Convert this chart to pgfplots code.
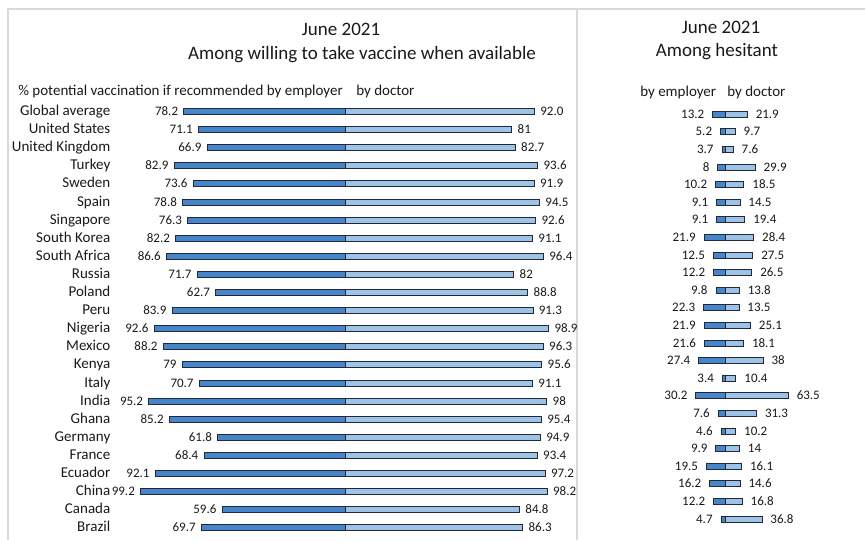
\documentclass[border=0pt]{standalone}
\usepackage{fontspec}
\setmainfont{Carlito}
\usepackage{pgfplots}
\usepackage{pgfplotstable}
\pgfplotsset{compat=1.18}

\definecolor{empc}{RGB}{68,133,204}
\definecolor{docc}{RGB}{157,195,232}
\definecolor{edgec}{RGB}{35,40,50}
\definecolor{framec}{RGB}{217,217,217}
\definecolor{txt}{RGB}{25,25,25}

% Share (%) who would get vaccinated if recommended by employer / by doctor
\pgfplotstableread{
row emp doc
0  78.2 92.0
1  71.1 81
2  66.9 82.7
3  82.9 93.6
4  73.6 91.9
5  78.8 94.5
6  76.3 92.6
7  82.2 91.1
8  86.6 96.4
9  71.7 82
10 62.7 88.8
11 83.9 91.3
12 92.6 98.9
13 88.2 96.3
14 79   95.6
15 70.7 91.1
16 95.2 98
17 85.2 95.4
18 61.8 94.9
19 68.4 93.4
20 92.1 97.2
21 99.2 98.2
22 59.6 84.8
23 69.7 86.3
}\willing

\pgfplotstableread{
row emp doc
0  13.2 21.9
1  5.2  9.7
2  3.7  7.6
3  8    29.9
4  10.2 18.5
5  9.1  14.5
6  9.1  19.4
7  21.9 28.4
8  12.5 27.5
9  12.2 26.5
10 9.8  13.8
11 22.3 13.5
12 21.9 25.1
13 21.6 18.1
14 27.4 38
15 3.4  10.4
16 30.2 63.5
17 7.6  31.3
18 4.6  10.2
19 9.9  14
20 19.5 16.1
21 16.2 14.6
22 12.2 16.8
23 4.7  36.8
}\hesitant

\newcommand\valfont{\fontsize{9.75}{11}\selectfont}
\newcommand\lblfont{\fontsize{11.25}{13}\selectfont}
\newcommand\ttlfont{\fontsize{14.25}{17}\selectfont}

\pgfplotsset{
  pairbars/.style={
    xbar, bar shift=0pt, bar width=4.5pt, clip=false,
    hide x axis, axis y line*=left, y axis line style={draw=none},
    major tick length=0pt, y dir=reverse, ymin=-0.7, ymax=23.7,
    point meta=explicit symbolic, nodes near coords,
    nodes near coords style={font=\valfont, text=txt,
      text height=0.65em, text depth=0.05em},
  },
}

\begin{document}
\begin{tikzpicture}[x=0.75pt, y=0.75pt]
\useasboundingbox (0,0) rectangle (865,540);

% panel frame
\draw[framec, line width=1.1pt] (8,0) -- (8,531) -- (865,531);
\draw[framec, line width=1.1pt] (577,531) -- (577,0);

% titles and column headers
\node[font=\ttlfont, text=txt, anchor=base, inner sep=0pt] at (341,504) {June 2021};
\node[font=\ttlfont, text=txt, anchor=base, inner sep=0pt] at (362,480) {Among willing to take vaccine when available};
\node[font=\ttlfont, text=txt, anchor=base, inner sep=0pt] at (721,506) {June 2021};
\node[font=\ttlfont, text=txt, anchor=base, inner sep=0pt] at (717,483) {Among hesitant};
\node[font=\lblfont, text=txt, anchor=base west, inner sep=0pt] at (18,444) {\% potential vaccination if recommended by employer};
\node[font=\lblfont, text=txt, anchor=base west, inner sep=0pt] at (356,444) {by doctor};
\node[font=\lblfont, text=txt, anchor=base west, inner sep=0pt] at (640,443) {by employer};
\node[font=\lblfont, text=txt, anchor=base west, inner sep=0pt] at (727,443) {by doctor};

% willing to take vaccine
\begin{axis}[pairbars,
  at={(258.75pt,321.375pt)}, anchor=origin,
  x=1.545pt, y=13.575pt, xmin=-113.8, xmax=112,
  ytick={0,...,23},
  yticklabels={Global average, United States, United Kingdom, Turkey, Sweden,
    Spain, Singapore, South Korea, South Africa, Russia, Poland, Peru, Nigeria,
    Mexico, Kenya, Italy, India, Ghana, Germany, France, Ecuador, China,
    Canada, Brazil},
  yticklabel style={font=\lblfont, text=txt, inner sep=0pt, anchor=east,
    text height=0.65em, text depth=0.05em},
  nodes near coords style={inner sep=4pt},
]
\addplot[fill=empc, draw=edgec, line width=0.7pt, nodes near coords align=left]
  table[x expr=-\thisrow{emp}, y=row, meta=emp] {\willing};
\addplot[fill=docc, draw=edgec, line width=0.7pt, nodes near coords align=right]
  table[x=doc, y=row, meta=doc] {\willing};
\end{axis}

% hesitant
\begin{axis}[pairbars,
  at={(544.275pt,319.275pt)}, anchor=origin,
  x=0.7395pt, y=13.2pt, xmin=-40, xmax=75,
  ytick=\empty,
  nodes near coords style={inner sep=6pt},
]
\addplot[fill=empc, draw=edgec, line width=0.7pt, nodes near coords align=left]
  table[x expr=-\thisrow{emp}, y=row, meta=emp] {\hesitant};
\addplot[fill=docc, draw=edgec, line width=0.7pt, nodes near coords align=right]
  table[x=doc, y=row, meta=doc] {\hesitant};
\end{axis}
\end{tikzpicture}
\end{document}
